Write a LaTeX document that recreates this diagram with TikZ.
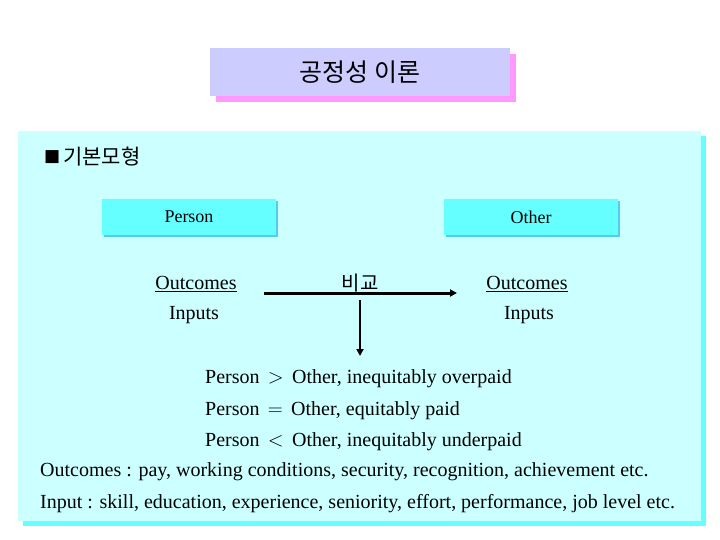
\documentclass[tikz,border=0pt]{standalone}
\usepackage{fontspec}
\setmainfont{Liberation Serif}
\newfontfamily\kor{Noto Sans CJK KR}
\newfontfamily\dejavu{DejaVu Sans}
\usetikzlibrary{arrows.meta}
\definecolor{lav}{HTML}{CCCCFF}
\definecolor{pinkshadow}{HTML}{FF99FF}
\definecolor{lightcyan}{HTML}{CCFFFF}
\definecolor{cyanshadow}{HTML}{66FFFF}
\definecolor{boxcyan}{HTML}{66FFFF}
\definecolor{boxshadow}{HTML}{55CCEE}
\tikzset{
  txt/.style={font=\fontsize{20pt}{22pt}\selectfont, inner sep=0pt},
  kt/.style={font=\kor\fontsize{20pt}{22pt}\selectfont, inner sep=0pt},
  pbox/.style={fill=boxcyan, minimum width=174pt, minimum height=36pt, inner sep=0pt, font=\fontsize{18pt}{20pt}\selectfont},
  pshadow/.style={fill=boxshadow, minimum width=174pt, minimum height=36pt, inner sep=0pt},
  arr/.style={-{Triangle[length=7pt,width=7pt]}}
}
\begin{document}
\begin{tikzpicture}[x=1pt,y=-1pt]
\useasboundingbox (0,0) rectangle (720,540);
\fill[white] (0,0) rectangle (720,540);
% title
\fill[pinkshadow] (216,54) rectangle (516,102);
\fill[lav] (210,48) rectangle (510,96);
\node[font=\kor\fontsize{25pt}{28pt}\selectfont, inner sep=0pt] (title) at (360,72) {공정성 이론};
% main box
\fill[cyanshadow] (23,136) rectangle (706,526);
\fill[lightcyan] (18,131) rectangle (701,521);
\node[inner sep=0pt, anchor=west] (bullet) at (44,157) {\dejavu\fontsize{17pt}{18pt}\selectfont ■};
\node[kt, anchor=west, font=\kor\fontsize{21pt}{24pt}\selectfont] (head) at (63,157) {기본모형};
% person / other boxes
\node[pshadow] at (191,219) {};
\node[pbox] (person) at (189,217) {Person};
\node[pshadow] at (533,219) {};
\node[pbox] (other) at (531,217) {Other};
% labels
\node[txt] (po) at (196,284) {\underline{Outcomes}};
\node[txt] (pi) at (194,315) {Inputs};
\node[txt] (oo) at (527,284) {\underline{Outcomes}};
\node[txt] (oi) at (529,315) {Inputs};
\node[kt] (cmp) at (360,283) {비교};
\coordinate (hs) at (264,293);
\coordinate (he) at (457,293);
\coordinate (vs) at (360,300);
\coordinate (ve) at (360,356);
\draw[arr, line width=3pt] (hs) -- (he);
\draw[arr, line width=2pt] (vs) -- (ve);
% results
\node[txt, anchor=base west] (r1) at (205,383) {Person \,$>$\, Other, inequitably overpaid};
\node[txt, anchor=base west] (r2) at (205,415) {Person \,$=$\, Other, equitably paid};
\node[txt, anchor=base west] (r3) at (205,446) {Person \,$<$\, Other, inequitably underpaid};
\node[txt, anchor=base west] (d1) at (40,476) {Outcomes : pay, working conditions, security, recognition, achievement etc.};
\node[txt, anchor=base west] (d2) at (40,508) {Input : skill, education, experience, seniority, effort, performance, job level etc.};
\end{tikzpicture}
\end{document}
